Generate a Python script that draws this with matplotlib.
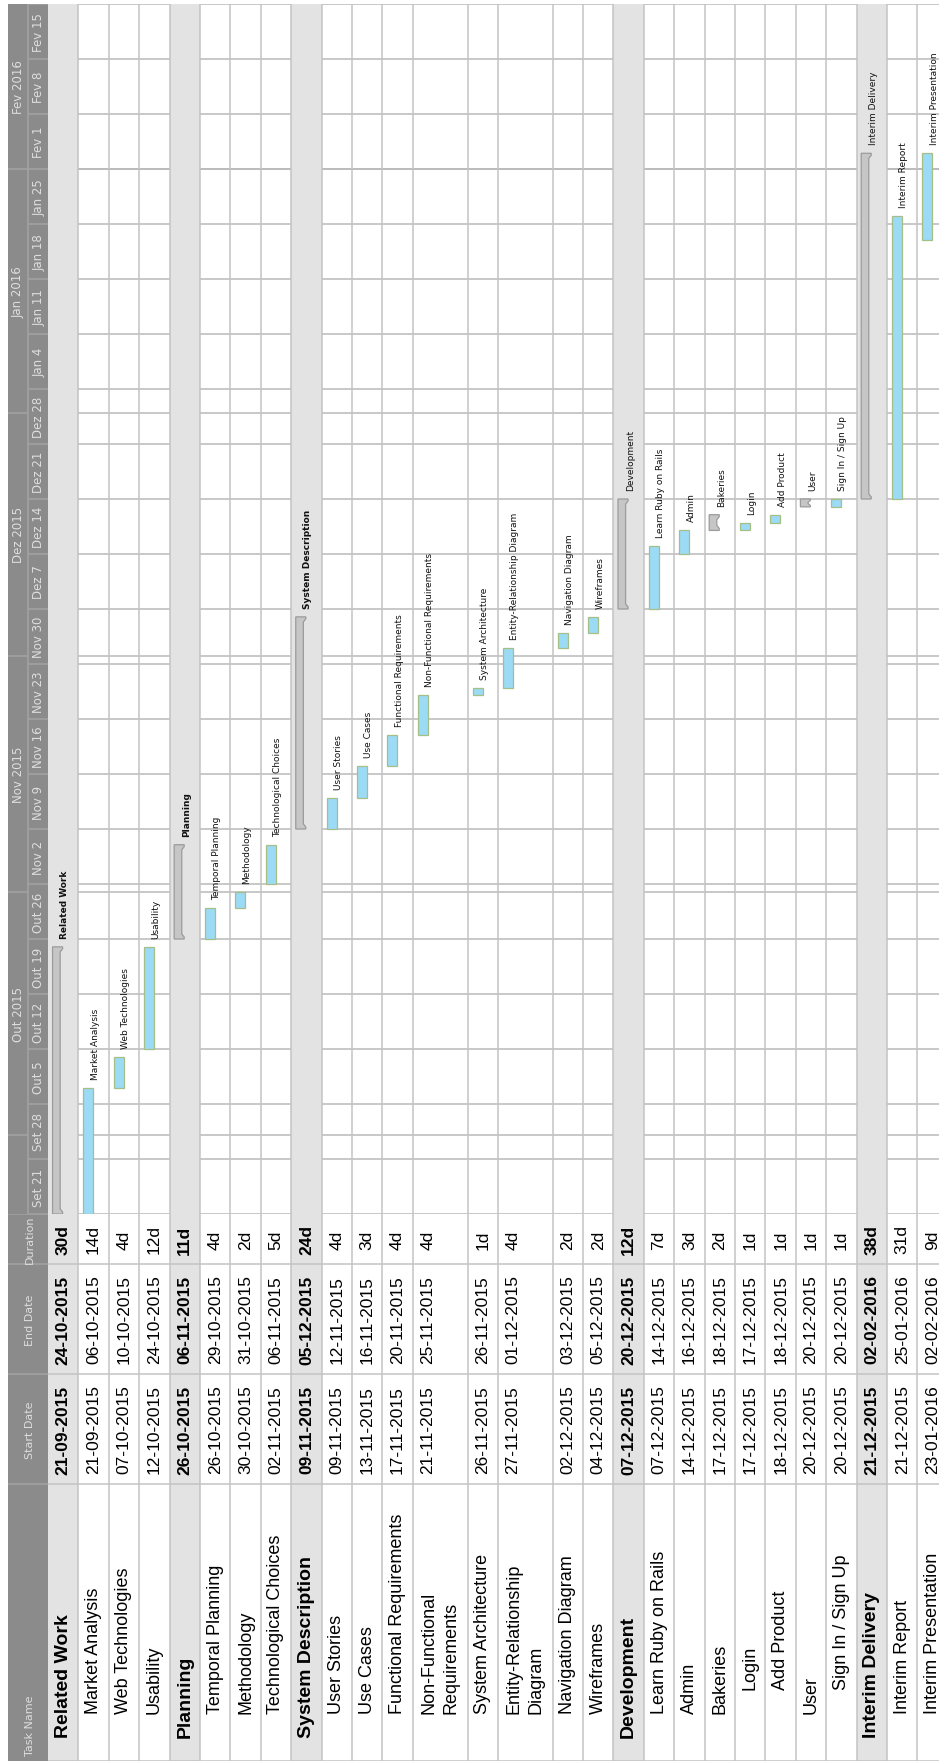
import matplotlib
matplotlib.use("Agg")
import matplotlib.dates as mdates
import matplotlib.pyplot as plt
import numpy as np
import pandas as pd
from matplotlib.patches import Polygon

task_names = [
    "Related Work", "Market Analysis", "Web Technologies", "Usability",
    "Planning", "Temporal Planning", "Methodology", "Technological Choices",
    "System Description", "User Stories", "Use Cases", "Functional Requirements",
    "Non-Functional\nRequirements", "System Architecture",
    "Entity-Relationship\nDiagram", "Navigation Diagram", "Wireframes",
    "Development", "Learn Ruby on Rails", "Admin", "Bakeries", "Login",
    "Add Product", "User", "Sign In / Sign Up",
    "Interim Delivery", "Interim Report", "Interim Presentation",
]
start_dates = [
    "21-09-2015", "21-09-2015", "07-10-2015", "12-10-2015",
    "26-10-2015", "26-10-2015", "30-10-2015", "02-11-2015",
    "09-11-2015", "09-11-2015", "13-11-2015", "17-11-2015",
    "21-11-2015", "26-11-2015", "27-11-2015", "02-12-2015", "04-12-2015",
    "07-12-2015", "07-12-2015", "14-12-2015", "17-12-2015", "17-12-2015",
    "18-12-2015", "20-12-2015", "20-12-2015",
    "21-12-2015", "21-12-2015", "23-01-2016",
]
end_dates = [
    "24-10-2015", "06-10-2015", "10-10-2015", "24-10-2015",
    "06-11-2015", "29-10-2015", "31-10-2015", "06-11-2015",
    "05-12-2015", "12-11-2015", "16-11-2015", "20-11-2015",
    "25-11-2015", "26-11-2015", "01-12-2015", "03-12-2015", "05-12-2015",
    "20-12-2015", "14-12-2015", "16-12-2015", "18-12-2015", "17-12-2015",
    "18-12-2015", "20-12-2015", "20-12-2015",
    "02-02-2016", "25-01-2016", "02-02-2016",
]
durations = [
    "30d", "14d", "4d", "12d",
    "11d", "4d", "2d", "5d",
    "24d", "4d", "3d", "4d",
    "4d", "1d", "4d", "2d", "2d",
    "12d", "7d", "3d", "2d", "1d",
    "1d", "1d", "1d",
    "38d", "31d", "9d",
]
levels = [1, 2, 2, 2,
          1, 2, 2, 2,
          1, 2, 2, 2, 2, 2, 2, 2, 2,
          1, 2, 2, 2, 3, 3, 2, 3,
          1, 2, 2]
is_summary = [l == 1 for l in levels]
is_summary[task_names.index("Bakeries")] = True
is_summary[task_names.index("User")] = True
bold_labels = ["Related Work", "Planning", "System Description"]

week_labels = [
    "Set 21", "Set 28", "Out 5", "Out 12", "Out 19", "Out 26", "Nov 2",
    "Nov 9", "Nov 16", "Nov 23", "Nov 30", "Dez 7", "Dez 14", "Dez 21",
    "Dez 28", "Jan 4", "Jan 11", "Jan 18", "Jan 25", "Fev 1", "Fev 8", "Fev 15",
]
month_labels = ["", "Out 2015", "Nov 2015", "Dez 2015", "Jan 2016", "Fev 2016"]
month_starts = ["2015-09-01", "2015-10-01", "2015-11-01", "2015-12-01",
                "2016-01-01", "2016-02-01", "2016-03-01"]
col_titles = ["Duration", "End Date", "Start Date"]

HEADER = "#8b8b8b"
HEADER_TXT = "#dedede"
HEADER_SEP = "#a3a3a3"
GRID = "#b9b9b9"
BAND = "#e3e3e3"
BLUE = "#9cdbf5"
BLUE_EDGE = "#a5bf88"
GREY = "#c6c6c6"
GREY_EDGE = "#9b9b9b"
LABEL_FONT = "DejaVu Sans"
TABLE_FONT = "Liberation Sans"

W, H = 939, 1765
fig = plt.figure(figsize=(W / 100, H / 100), dpi=100)


def frame(x0, y0, x1, y1):
    ax = fig.add_axes([x0 / W, 1 - y1 / H, (x1 - x0) / W, (y1 - y0) / H])
    ax.set_axis_off()
    return ax


t0 = mdates.date2num(pd.Timestamp("2015-09-21"))
t1 = mdates.date2num(pd.Timestamp("2016-02-22"))
starts = mdates.date2num(pd.to_datetime(start_dates, format="%d-%m-%Y"))
ends = mdates.date2num(pd.to_datetime(end_dates, format="%d-%m-%Y")) + 1
weeks = mdates.date2num(pd.date_range("2015-09-21", periods=len(week_labels) + 1, freq="7D"))
months = mdates.date2num(pd.to_datetime(month_starts))

row_h = np.array([1.8 if "\n" in n else 1.0 for n in task_names])
row_left = np.concatenate([[0], np.cumsum(row_h)[:-1]])
row_right = row_left + row_h
xmax = 891 / 30.4
summary = np.array(is_summary)
top_level = np.array(levels) == 1

# ---- gantt area
gantt = frame(48, 5, 939, 1215)
gantt.set_xlim(0, xmax)
gantt.set_ylim(t0, t1)
gantt.hlines(weeks, 0, xmax, color=GRID, lw=1.1, zorder=1)
gantt.hlines(months[1:-1], 0, xmax, color=GRID, lw=1.1, zorder=1)
for i in np.where(top_level)[0]:
    gantt.axvspan(row_left[i], row_right[i], color=BAND, lw=0, zorder=2)
gantt.vlines(row_right, t0, t1, color="#c3c3c3", lw=1.1, zorder=3)

task = ~summary
gantt.bar(row_left[task] + 0.33, ends[task] - starts[task], bottom=starts[task],
          width=0.33, color=BLUE, edgecolor=BLUE_EDGE, linewidth=0.9, zorder=4)

for i in np.where(summary)[0]:
    s, e = starts[i], ends[i]
    x0, xb, x1 = row_left[i] + 0.15, row_left[i] + 0.40, row_left[i] + 0.48
    a = min(0.25, (e - s) * 0.15)
    b = min(0.4, (e - s) * 0.3)
    pts = [(x0, s), (x1, s), (x1, s + a), (xb, s + a + b), (xb, e - a - b),
           (x1, e - a), (x1, e), (x0, e)]
    gantt.add_patch(Polygon(pts, closed=True, facecolor=GREY, edgecolor=GREY_EDGE,
                            lw=0.9, zorder=4))

for i, name in enumerate(task_names):
    gantt.annotate(name.replace("\n", " "), xy=(row_left[i] + 0.55, ends[i]),
                   xytext=(0, 6.5), textcoords="offset points", rotation=90,
                   ha="center", va="bottom", fontsize=6.5, family=LABEL_FONT,
                   fontweight="bold" if name in bold_labels else "normal",
                   color="#111111", zorder=5)

# ---- timeline header
head_g = frame(8, 5, 48, 1215)
head_g.set_xlim(0, 2)
head_g.set_ylim(t0, t1)
head_g.axvspan(0, 2, color=HEADER, lw=0)
head_g.vlines(1, t0, t1, color=HEADER_SEP, lw=1.1)
head_g.hlines(weeks, 1, 2, color=HEADER_SEP, lw=1.1)
head_g.hlines(months[1:-1], 0, 1, color=HEADER_SEP, lw=1.1)
for lab, w0, w1 in zip(week_labels, weeks[:-1], weeks[1:]):
    head_g.text(1.55, (w0 + w1) / 2, lab, rotation=90, ha="center", va="center",
                fontsize=8.5, family=LABEL_FONT, color=HEADER_TXT)
for lab, m0, m1 in zip(month_labels, months[:-1], months[1:]):
    if lab:
        c = (max(m0, t0) + min(m1, t1)) / 2
        head_g.text(0.5, c, lab, rotation=90, ha="center", va="center",
                    fontsize=8.5, family=LABEL_FONT, color=HEADER_TXT)

# ---- task table
col_edges = [0, 50, 160, 270, 547]
table = frame(48, 1215, 939, 1762)
table.set_xlim(0, xmax)
table.set_ylim(547, 0)
for i in np.where(top_level)[0]:
    table.axvspan(row_left[i], row_right[i], color=BAND, lw=0, zorder=1)
table.vlines(row_right, 0, 547, color="#c3c3c3", lw=1.1, zorder=2)
table.hlines(col_edges[1:], 0, xmax, color="#c3c3c3", lw=1.1, zorder=2)

for i, name in enumerate(task_names):
    bold = "bold" if top_level[i] else "normal"
    size = 14 if top_level[i] else 13
    xc = row_left[i] + 0.5
    table.text(row_left[i] + row_h[i] / 2, 547 - 24 - 24 * (levels[i] - 1), name,
               rotation=90, ha="center", va="bottom", fontsize=size, fontweight=bold,
               family=TABLE_FONT, linespacing=1.4, multialignment="left",
               color="black", zorder=3)
    cells = [durations[i], end_dates[i], start_dates[i]]
    for txt, c0, c1 in zip(cells, col_edges[:-2], col_edges[1:-1]):
        table.text(xc, (c0 + c1) / 2, txt, rotation=90, ha="center", va="center",
                   fontsize=12.5, fontweight=bold, family=TABLE_FONT,
                   color="black", zorder=3)

head_t = frame(8, 1215, 48, 1762)
head_t.set_xlim(0, 2)
head_t.set_ylim(547, 0)
head_t.axvspan(0, 2, color=HEADER, lw=0)
head_t.hlines(col_edges[:-1], 0, 2, color=HEADER_SEP, lw=1.1)
for title, c0, c1 in zip(col_titles, col_edges[:-2], col_edges[1:-1]):
    head_t.text(1.1, (c0 + c1) / 2, title, rotation=90, ha="center", va="center",
                fontsize=8, family=LABEL_FONT, color=HEADER_TXT)
head_t.text(1.1, 541, "Task Name", rotation=90, ha="center", va="bottom",
            fontsize=8, family=LABEL_FONT, color=HEADER_TXT)

fig.savefig("out.png", dpi=100, facecolor="white")
